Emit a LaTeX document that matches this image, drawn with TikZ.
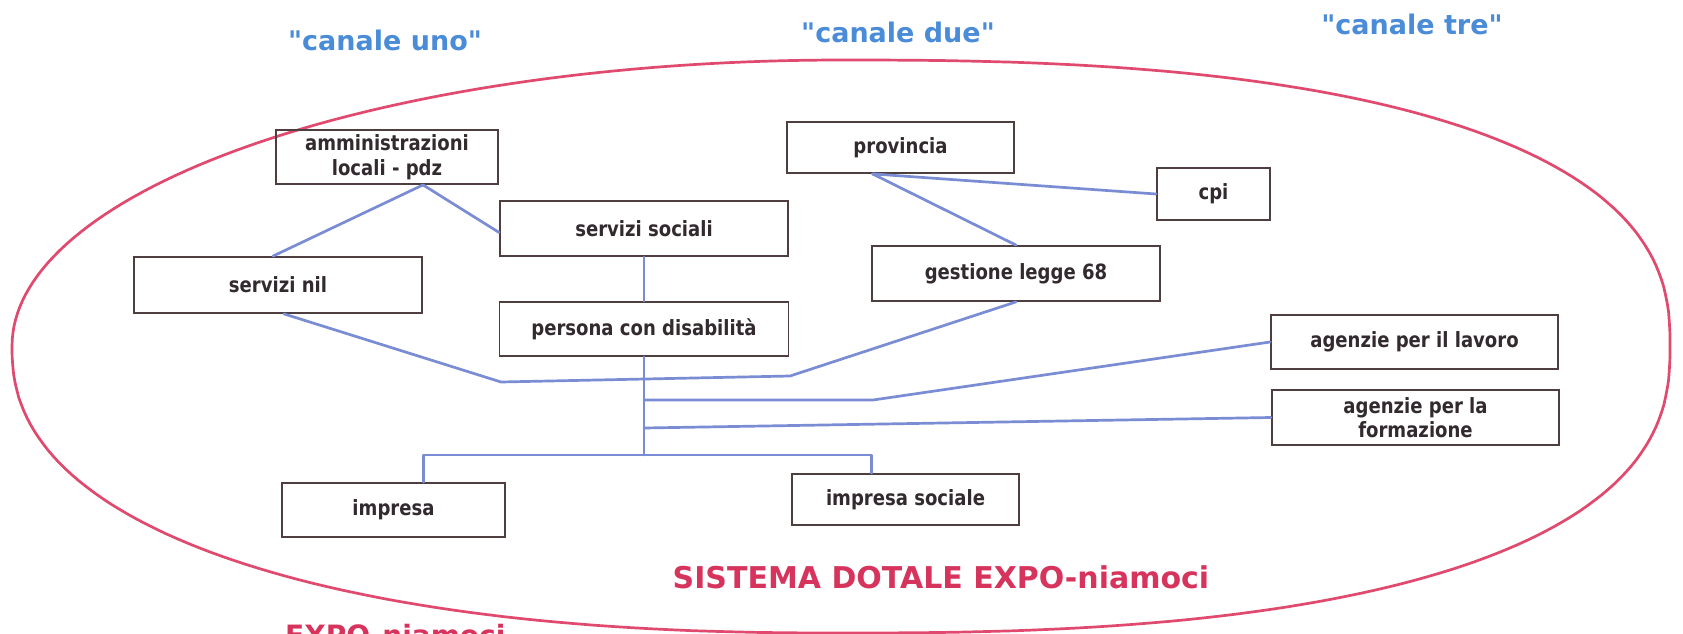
\documentclass[tikz,border=0pt]{standalone}
\usepackage{fontspec}
\usetikzlibrary{calc}
\newfontfamily\boxfont[FakeStretch=0.86]{DejaVu Sans}
\newfontfamily\headfont{DejaVu Sans}
\definecolor{boxline}{RGB}{78,62,64}
\definecolor{boxtext}{RGB}{50,42,46}
\definecolor{conn}{RGB}{122,140,212}
\definecolor{ring}{RGB}{224,74,110}
\definecolor{chan}{RGB}{74,140,216}
\definecolor{sysred}{RGB}{214,52,92}
\begin{document}
\begin{tikzpicture}[x=1pt,y=-1pt,
  box/.style={draw=boxline, line width=1.8pt, inner sep=0pt, align=center,
    text=boxtext, font=\boxfont\bfseries\fontsize{21}{24.5}\selectfont},
  link/.style={draw=conn, line width=2.7pt, line cap=round, line join=round},
  chanlbl/.style={inner sep=0pt, text=chan, font=\headfont\bfseries\fontsize{27}{32}\selectfont},
  syslbl/.style={inner sep=0pt, text=sysred, font=\headfont\bfseries\fontsize{30}{36}\selectfont}]
\useasboundingbox[fill=white] (0,0) rectangle (1683,634);

% outer ring (egg-shaped: fuller on the right)
\draw[ring, line width=2.7pt, line join=round]
  plot[domain=0.05:89.95, samples=70, variable=\t]
    ({841+829*pow(cos(\t),0.8)}, {346-286*pow(sin(\t),0.8)})
  -- plot[domain=90.05:179.95, samples=70, variable=\t]
    ({841-829*abs(cos(\t))}, {346-286*sin(\t)})
  -- plot[domain=180.05:269.95, samples=70, variable=\t]
    ({841-829*pow(abs(cos(\t)),0.87)}, {346+287*pow(abs(sin(\t)),0.87)})
  -- plot[domain=270.05:359.95, samples=70, variable=\t]
    ({841+829*pow(cos(\t),0.8)}, {346+287*pow(abs(sin(\t)),0.8)})
  -- cycle;

% channel labels
\node[chanlbl] (c1) at (385,40) {"canale uno"};
\node[chanlbl] (c2) at (898,32) {"canale due"};
\node[chanlbl] (c3) at (1412,24) {"canale tre"};

% boxes
\node[box, minimum width=222pt, minimum height=54pt] (amm) at (387,157) {amministrazioni\\locali - pdz};
\node[box, minimum width=288pt, minimum height=55pt] (soc) at (644,228.5) {servizi sociali};
\node[box, minimum width=288pt, minimum height=56pt] (nil) at (278,285) {servizi nil};
\node[box, minimum width=289pt, minimum height=54pt] (pers) at (644,329) {persona con disabilità};
\node[box, minimum width=227pt, minimum height=51pt] (prov) at (900.5,147.5) {provincia};
\node[box, minimum width=113pt, minimum height=52pt] (cpi) at (1213.5,194) {cpi};
\node[box, minimum width=288pt, minimum height=55pt] (gest) at (1016,273.5) {gestione legge 68};
\node[box, minimum width=287pt, minimum height=54pt] (lav) at (1414.5,342) {agenzie per il lavoro};
\node[box, minimum width=287pt, minimum height=55pt] (form) at (1415.5,417.5) {agenzie per la\\formazione};
\node[box, minimum width=223pt, minimum height=54pt] (imp) at (393.5,510) {impresa};
\node[box, minimum width=227pt, minimum height=51pt] (impsoc) at (905.5,499.5) {impresa sociale};

% connectors
\coordinate (ammfoot) at ($(amm.south)+(36,0)$);
\draw[link] (ammfoot) -- ($(nil.north)+(-5,0)$);
\draw[link] (ammfoot) -- ($(soc.west)+(0,4)$);
\draw[link] (soc.south) -- (pers.north);

\coordinate (provfoot) at ($(prov.south)+(-28,0)$);
\draw[link] (provfoot) -- (cpi.west);
\draw[link] (provfoot) -- (gest.north);

\coordinate (n1) at (501,382);
\coordinate (n2) at (790,376);
\draw[link] ($(nil.south)+(6,0)$) -- (n1) -- (n2) -- (gest.south);

\coordinate (bar) at (644,455);
\draw[link] (pers.south) -- (bar);
\coordinate (k1) at (873,400);
\draw[link] (pers.south |- k1) -- (k1) -- (lav.west);
\coordinate (h0) at (644,428);
\draw[link] (h0) -- (form.west);
\draw[link] ($(imp.north)+(30,0)$) |- (bar) -| ($(impsoc.north)+(-34,0)$);

% system label
\node[syslbl] (sys) at (941,577) {SISTEMA DOTALE EXPO-niamoci};
\node[syslbl, anchor=north west, font=\headfont\bfseries\fontsize{28}{34}\selectfont] (sys2) at (285,624) {EXPO-niamoci};
\end{tikzpicture}
\end{document}
